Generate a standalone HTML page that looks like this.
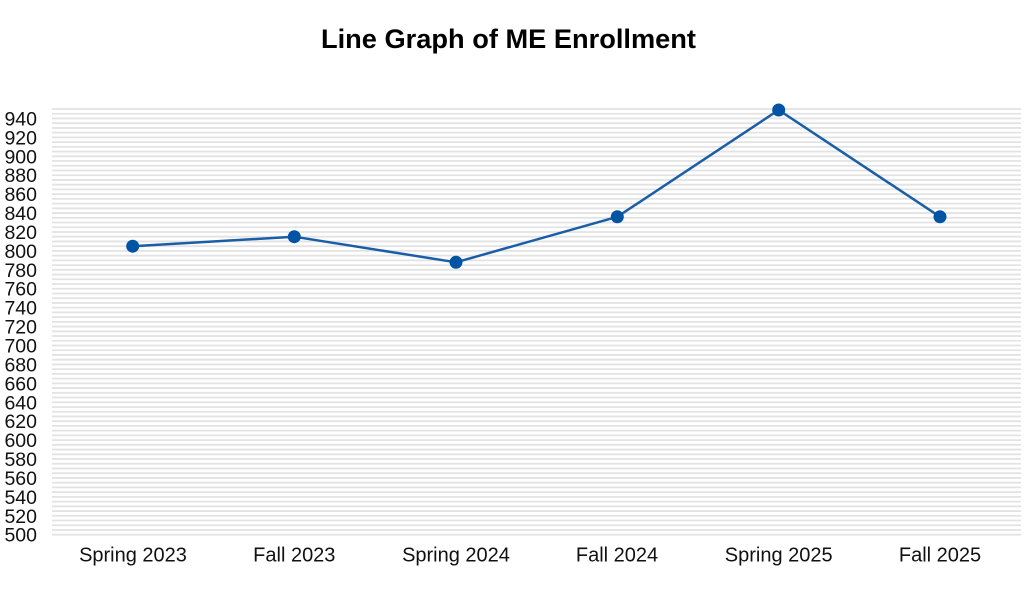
<!DOCTYPE html>
<html>
<head>
<meta charset="utf-8">
<style>
  html, body { margin: 0; padding: 0; background: #ffffff; }
  body { width: 1024px; height: 608px; overflow: hidden; }
  svg { display: block; }
  text { font-family: "Liberation Sans", "DejaVu Sans", sans-serif; fill: #111111; }
</style>
</head>
<body>
<svg width="1024" height="608" viewBox="0 0 1024 608" xmlns="http://www.w3.org/2000/svg">
  <rect x="0" y="0" width="1024" height="608" fill="#ffffff"/>

  <!-- Title -->
  <text x="508.5" y="48" text-anchor="middle" font-size="27" font-weight="bold" textLength="375" lengthAdjust="spacingAndGlyphs" style="fill:#000">Line Graph of ME Enrollment</text>

  <!-- Grid lines every 5 units -->
  <path stroke="#e3e3e3" stroke-width="1.8" fill="none" d="
M52 534.70H1021 M52 529.97H1021 M52 525.24H1021 M52 520.51H1021 M52 515.78H1021
M52 511.05H1021 M52 506.32H1021 M52 501.59H1021 M52 496.86H1021 M52 492.13H1021
M52 487.40H1021 M52 482.67H1021 M52 477.94H1021 M52 473.21H1021 M52 468.48H1021
M52 463.75H1021 M52 459.02H1021 M52 454.29H1021 M52 449.56H1021 M52 444.83H1021
M52 440.10H1021 M52 435.37H1021 M52 430.64H1021 M52 425.91H1021 M52 421.18H1021
M52 416.45H1021 M52 411.72H1021 M52 406.99H1021 M52 402.26H1021 M52 397.53H1021
M52 392.80H1021 M52 388.07H1021 M52 383.34H1021 M52 378.61H1021 M52 373.88H1021
M52 369.15H1021 M52 364.42H1021 M52 359.69H1021 M52 354.96H1021 M52 350.23H1021
M52 345.50H1021 M52 340.77H1021 M52 336.04H1021 M52 331.31H1021 M52 326.58H1021
M52 321.85H1021 M52 317.12H1021 M52 312.39H1021 M52 307.66H1021 M52 302.93H1021
M52 298.20H1021 M52 293.47H1021 M52 288.74H1021 M52 284.01H1021 M52 279.28H1021
M52 274.55H1021 M52 269.82H1021 M52 265.09H1021 M52 260.36H1021 M52 255.63H1021
M52 250.90H1021 M52 246.17H1021 M52 241.44H1021 M52 236.71H1021 M52 231.98H1021
M52 227.25H1021 M52 222.52H1021 M52 217.79H1021 M52 213.06H1021 M52 208.33H1021
M52 203.60H1021 M52 198.87H1021 M52 194.14H1021 M52 189.41H1021 M52 184.68H1021
M52 179.95H1021 M52 175.22H1021 M52 170.49H1021 M52 165.76H1021 M52 161.03H1021
M52 156.30H1021 M52 151.57H1021 M52 146.84H1021 M52 142.11H1021 M52 137.38H1021
M52 132.65H1021 M52 127.92H1021 M52 123.19H1021 M52 118.46H1021 M52 113.73H1021
M52 109.00H1021"/>

  <!-- Y axis labels -->
  <g font-size="19.5" text-anchor="end">
    <text x="37" y="541.7">500</text>
    <text x="37" y="522.8">520</text>
    <text x="37" y="503.9">540</text>
    <text x="37" y="484.9">560</text>
    <text x="37" y="466.0">580</text>
    <text x="37" y="447.1">600</text>
    <text x="37" y="428.2">620</text>
    <text x="37" y="409.3">640</text>
    <text x="37" y="390.3">660</text>
    <text x="37" y="371.4">680</text>
    <text x="37" y="352.5">700</text>
    <text x="37" y="333.6">720</text>
    <text x="37" y="314.7">740</text>
    <text x="37" y="295.7">760</text>
    <text x="37" y="276.8">780</text>
    <text x="37" y="257.9">800</text>
    <text x="37" y="239.0">820</text>
    <text x="37" y="220.1">840</text>
    <text x="37" y="201.1">860</text>
    <text x="37" y="182.2">880</text>
    <text x="37" y="163.3">900</text>
    <text x="37" y="144.4">920</text>
    <text x="37" y="125.5">940</text>
  </g>

  <!-- X axis labels -->
  <g font-size="20" text-anchor="middle">
    <text x="133" y="561.5">Spring 2023</text>
    <text x="294.3" y="561.5">Fall 2023</text>
    <text x="456" y="561.5">Spring 2024</text>
    <text x="617" y="561.5">Fall 2024</text>
    <text x="778.7" y="561.5">Spring 2025</text>
    <text x="940" y="561.5">Fall 2025</text>
  </g>

  <!-- Series line -->
  <polyline fill="none" stroke="#1a5ea8" stroke-width="2.5" stroke-linejoin="round"
    points="132.7,246.2 294.3,236.7 456,262.3 617.3,216.8 778.7,110 940,216.8"/>

  <!-- Points -->
  <g fill="#0054a3">
    <circle cx="132.7" cy="246.2" r="6.5"/>
    <circle cx="294.3" cy="236.7" r="6.5"/>
    <circle cx="456" cy="262.3" r="6.5"/>
    <circle cx="617.3" cy="216.8" r="6.5"/>
    <circle cx="778.7" cy="110" r="6.5"/>
    <circle cx="940" cy="216.8" r="6.5"/>
  </g>
</svg>
</body>
</html>
